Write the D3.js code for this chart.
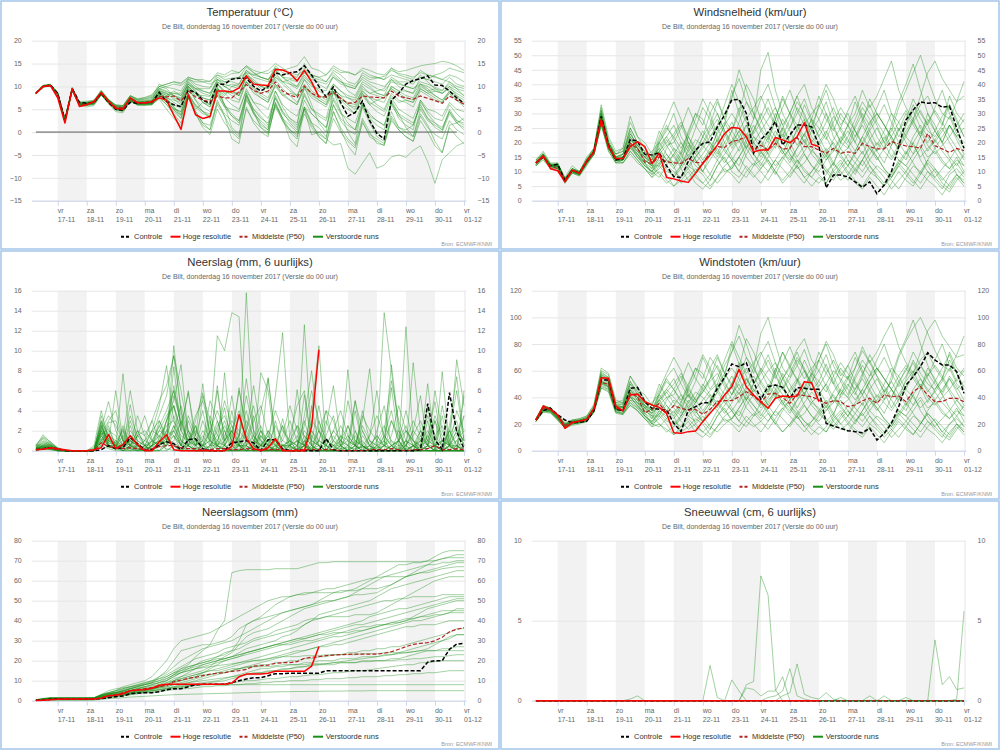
<!DOCTYPE html>
<html><head><meta charset="utf-8">
<script src="https://cdn.jsdelivr.net/npm/d3@7"></script>
<style>body{margin:0;background:#fff}svg{display:block}</style>
</head><body><svg id="c" width="1000" height="750"></svg>
<script>
// ---------- DATA ----------
const subtitle = "De Bilt, donderdag 16 november 2017 (Versie do 00 uur)";
const weekdays = ["vr","za","zo","ma","di","wo","do","vr","za","zo","ma","di","wo","do","vr"];
const dateLabels = ["17-11","18-11","19-11","20-11","21-11","22-11","23-11","24-11","25-11","26-11","27-11","28-11","29-11","30-11","01-12"];
const legendLabels = ["Controle","Hoge resolutie","Middelste (P50)","Verstoorde runs"];

// Temperatuur
const tempCtrl = [8.5,10,10.3, 8.5,2.5,9.5,6.5, 6.3,6.5,8.5,6.5, 5,4.8,6.5,6.3, 6.5,6.5,8.7,6.7, 6,5.6,9.2,8.7, 7,6.3,10.5,10.5, 11.6,11.8,11.8,10, 9,10,13,12.5, 13,13.2,14.5,12.5, 10,7.7,9.9,6.5, 3.5,4.3,6.8,2.5, -0.3,-1.5,7,8.5, 10.5,11.3,11.7,12.3, 10.3,10.2,9,7.5, 6.3];
const tempHres = [8.5,10,10.2, 7.5,2,9.5,5.6, 6,6.7,8.7,6.7, 5.2,5,7.5,6.4, 6.4,6.7,7.5,7, 3.7,0.6,8.1,3.8, 3,3.4,9,9, 8.8,9.7,12.3,10.5, 10.3,10.2,13.7,13.6, 12.9,11.2,13.5,11, 7.7];
const tempP50 = [8.5,10,10.2, 8.3,2.3,9.3,6, 6.2,6.5,8.5,6.8, 5.5,5.3,7.3,6.5, 6.3,6.5,7.8,7.7, 7.9,6.8,9,7.7, 7,6.7,7.9,7.5, 7.5,8.8,10.4,9.1, 8.5,9,11,9, 8.1,7.6,10.1,8.5, 7.7,7.7,8.7,7.4, 6.3,6.5,7.9,7.7, 7.6,7.5,9,7.9, 7.5,7.2,7.9,7.4, 6.9,6.3,7.9,7, 6.1];
const tempEns = [
[8.7,10.3,10.5, 8.6,3,9.8,6.6, 6.8,7,9.2,7.2, 5.8,5.6,7.8,7, 7.2,7.6,9.5,10, 10.5,10.2,11.5,11, 11,11.2,12.5,12, 12.8,13,14.5,13.5, 13,12.8,14,13.5, 14,14.5,16.5,14, 13.5,12.5,14,13, 13.2,12.5,14,13.5, 12.8,12.5,14,13.2, 13.5,14,14.5,14.8, 15,15.5,15.2,14.5, 13.5],
[8.3,9.8,10.1, 8.2,2.8,9,6.2, 6.5,6.8,8.8,7, 6,5.8,8,7.2, 7.5,8,10.5,9.8, 9.5,9,11.8,10.5, 10,9.8,12.5,11.5, 11.8,12,14.2,13, 12,11.5,13.5,12, 11.8,11.5,13,12, 11.5,11,13.5,12.5, 11,10.5,12.5,11.5, 11.8,12.2,13.5,12.8, 12.5,12,13,12.5, 12.2,11.5,12.5,12, 11],
[8.6,10.1,10, 8,2.2,9.2,5.8, 5.5,5.8,8.2,6.2, 4.5,4.2,7,6, 5.8,6,8,6.8, 5,4.5,8.5,4, 1.5,0.5,6,3.5, -1.5,-2.5,5.5,2, 0,-1,6.5,3, -1.5,-3.2,5,1.5, -0.5,-1.5,6,2.5, 0.5,-0.5,5.5,2, -1,-2,4.5,1, 0.5,1.5,6.5,4.5, 3,2.5,6,4, 2.5],
[8.4,10,10.3, 8.5,2.6,9.4,6.1, 6.1,6.3,8.4,6.6, 5.1,5,7.1,6.2, 6.2,6.6,9.2,8.5, 7.2,6,10,8.5, 6.5,5.5,10.5,9, 8.5,8,12.5,11, 9.5,8.5,12,10.5, 9,8,11.5,10, 9.5,9,12.5,11, 10,9.5,12,11, 10.5,10,11.5,10.8, 10,9.5,11,10.5, 9.8,9.2,10.5,9.5, 9],
[8.5,9.9,10.2, 8.1,2.4,9.1,5.9, 5.8,6,8.1,6.3, 4.8,4.5,6.8,5.9, 6,6.1,7.2,5, 3,1.5,7.5,4.5, 2,1.5,6.5,4, 2.5,1.5,7,4.5, 2,0.5,6.5,3, 1.5,0,5.5,2, 1,-1,4.5,1, -1.5,-3,3,0, -2.5,-2.8,2.5,0.5, -1,-2,3.5,1, -0.5,-1.5,2.5,0.5, -0.5],
[8.6,10.2,10.3, 8.3,2.7,9.5,6.3, 6.3,6.6,8.6,6.8, 5.4,5.2,7.4,6.6, 6.6,6.7,8.5,7.5, 7,6.5,10,8.5, 7,6,9.5,7.5, 6,5,9,6.5, 4.5,3,7.5,4, 2.5,1,5,-0.6, 0,-1.5,-2.8,-2.5, -7.9,-9.2,-6.8,-4.5, -7.9,-7.2,-5.4,-5, -5.5,-4,-3,-6.5, -11.2,-6,-4.5,-3, -2.3],
[8.4,10,10, 8.4,2.2,9.3,5.8, 6,6.4,8.8,7.1, 5.6,5.4,7.6,6.7, 6.8,7.2,10,9.5, 8,7,11,9.5, 8.5,8,11,10, 9,8.5,12,10.5, 10.5,10,13.5,12, 10.5,9.5,12,10.5, 8,7,9.5,8, 6,5.5,9,7.5, 7,6.5,10,9, 8,7.5,10.5,9, 8,7,9,7.5, 6.5],
[8.6,10,10.4, 8.7,2.9,9.6,6.4, 6.4,6.7,8.3,6.4, 4.9,4.6,6.9,6, 6.1,6.2,7.6,6, 4.5,3,8.5,5.5, 4,3.5,9,6, 4,2.5,8.5,5, 3.5,1.5,6,3, 0.5,-1,5.5,4, 2.5,1,7.5,4.5, 2,0.5,6,3, 1.5,0.5,7,4, 1,-1,4,1.5, -2,-4.5,1.5,2, 3],
[8.5,10.1,10.1, 8.2,2.5,9.2,6, 6.1,6.4,8.4,6.9, 5.4,5.1,7.1,6.3, 6.4,6.4,8.2,7.2, 6,5.2,9.5,8, 8,7.8,11.5,10.5, 10,9.5,13,11, 10,9.5,12.5,11, 11.5,11,14,12.5, 12,11,13,11.5, 9,8,11,10, 8.5,8,11.5,10, 9,8.5,12,11.5, 11,10.5,12,10.5, 10],
[8.4,9.8,10.3, 8.4,2.6,9.4,6.2, 5.9,6.1,8.3,6.4, 5,4.9,7,6.1, 6.3,6.3,8.5,7.5, 5.5,4,10,7, 4.5,3,10,6, 1,-0.5,8.5,4, 1.5,0.5,9,5.5, 3,1.5,10,6, 2,0,9,4.5, 0,-2.5,6,2.5, 0,-1.5,6.5,3, 1.5,0.5,7,4, 2,0.5,5,2.5, 1.5],
[8.6,10.2,10.1, 8.3,2.4,9.3,6.1, 6.2,6.5,8.6,6.7, 5.3,5.2,7.3,6.5, 6.5,6.8,8.8,8, 8.5,8.5,11,9.5, 9.5,9.5,12,11, 11,10.5,13.5,12, 11.5,11,14.5,13, 12.5,12,15,12, 10.5,9.5,12,10.5, 10,9.5,13,12, 12,11.5,14,12.5, 12,11.5,13.5,12.5, 12,11.5,11,9.5, 8],
[8.5,10,10.2, 8.4,2.5,9.4,6.2, 6.2,6.4,8.4,6.7, 5.2,5,7.2,6.3, 6.3,6.4,8,6.5, 5.2,4.5,8.5,6, 4.5,4,8,5.5, 5,4.5,9.5,6.5, 6,5,9,6, 4.5,3.5,8,5, 3.5,2.5,7,4, 3,2,6.5,4, 2.5,1.5,6,3.5, 2.5,1.5,6,3, 1,0,4,2, 1],
[8.3,9.9,10.2, 8.1,2.3,9.1,5.9, 6,6.2,8.2,6.5, 5.1,4.9,7,6.2, 6.2,6.3,8.7,8, 9,8,11.5,10, 9,8.5,11.5,10, 9,8,12,10, 8,7,10.5,8, 7,6,9.5,7.5, 6.5,5.5,8.5,7, 6.5,6,9.5,8.5, 9,9.5,12,11, 11,10.5,12.5,11, 9.5,8.5,10,8, 6],
[8.6,10.1,10.4, 8.6,2.8,9.7,6.5, 6.6,6.9,9,7, 5.7,5.5,7.7,6.9, 7,7.4,9.5,9, 8,7.5,10.5,9, 7.5,7,10.5,8.5, 7,6.5,11,8.5, 7.5,6.5,10,8, 8.5,8,11.5,9, 8,7.5,10.5,9, 7.5,6.5,9,7.5, 6,5,8.5,7, 6.5,5.5,9,8, 7,6.5,8.5,7, 5.5],
[8.5,10,10.1, 8.2,2.4,9.2,6, 6,6.3,8.3,6.5, 5,4.8,6.9,6, 6,6,7.5,6, 4,2,7.5,4, 1,-0.5,5,2, 0,-1.5,5,2.5, 1,0,5.5,2.5, 0.5,-0.5,4,1, -1,-2.5,3,0, -2,-3.5,2,-0.5, -1.5,-2.5,3,0.5, -1,-2,2.5,0, -3,-4.5,1,-1, -2.5],
[8.5,10.1,10.3, 8.5,2.5,9.5,6.2, 6.3,6.6,8.7,6.8, 5.4,5.1,7.3,6.4, 6.6,6.9,9,8.5, 8,7.2,10.5,9, 6.5,5.5,9.5,8, 10,10.5,13.5,12.5, 12,11.5,14,12, 11,10,12.5,10.5, 9,8,10.5,9, 8,7.5,10.5,9.5, 8.5,8,9.5,8.5, 7.5,7,10,9, 9.5,9,11,10, 9.5],
[8.4,10.1,10.2, 8.3,2.4,9.4,6.1, 6.2,6.5,8.6,6.9, 5.6,5.4,7.5,6.6, 6.8,7,9.5,8.8, 8.5,8,10.5,9.5, 9,8.5,11,10, 10.5,10,12.5,11.5, 10,9.5,12,11, 10.5,10,13,11.5, 11,10.5,12,11, 10.5,10,11.5,10.5, 9.5,9,11,10.5, 10,9.5,10.5,10, 9,8.5,9.5,8.5, 7.5],
[8.5,10,10.2, 8.4,2.6,9.3,6, 6,6.2,8.3,6.5, 5.1,4.9,7,6.1, 6.1,6.2,8.2,7, 5.5,3.5,8,4.5, 2,0.5,7,3.5, 0.5,-1,7.5,4, 2.5,1,8,4.5, 3,2,8.5,5, 4,3,9,6, 5,4,8.5,6, 4.5,3.5,7.5,5, 4,3,7,5, 4.5,3.5,6.5,5, 4.5],
[8.6,10.2,10.3, 8.4,2.6,9.5,6.3, 6.4,6.7,8.8,7.1, 5.9,5.7,7.9,7.1, 7.3,7.8,10,10.5, 11,10.5,12,11.5, 11.5,11,13,12.5, 13.5,13,14.5,13, 12,11.5,13,11, 9.5,8,10.5,8.5, 7,6,9.5,7.5, 6,5,8.5,6.5, 5.5,4.5,8,6.5, 7,6.5,9.5,8.5, 9,8.5,10,9, 8],
[8.5,10,10.1, 8.2,2.5,9.3,6.1, 6.1,6.3,8.4,6.6, 5.2,5,7.2,6.3, 6.3,6.4,8.6,7.6, 6.5,5.5,9.5,7, 5.5,4.5,9,6, 3.5,2,8,4.5, 1,-0.5,6,2.5, 0,-1.5,5.5,2, -1,-2.5,4.5,0.5, -3,-5,2.5,-1, -2,-3,3.5,1, 0,-1,5,2.5, 1.5,0.5,4.5,2, 0.5],
[8.4,10,10.3, 8.6,2.7,9.6,6.4, 6.5,6.8,9,7.1, 5.9,5.8,8,7.3, 7.6,8.2,10,10.5, 11,10.8,12,11.5, 11,10.5,11.5,11, 11.5,12,13,12.5, 13,13.5,15,14, 13,12.5,13.5,12.5, 12,12.5,14.5,13.5, 13,12.5,13.5,12.5, 12,11.5,12.5,12, 11.5,11,12,11.5, 12.5,13,14,13.5, 13],
[8.6,10.1,10.2, 8.3,2.5,9.4,6.2, 6.2,6.5,8.6,6.8, 5.3,5.1,7.3,6.4, 6.4,6.5,8.3,7.3, 5,3,8,5, 6.5,6,9.5,8.5, 9,8,11,9.5, 8.5,7.5,11.5,9.5, 8,6.5,10,8, 7,6,9,7, 5.5,4,8,6, 7,7.5,10,9, 9,8.5,10.5,9.5, 8,7,8.5,7, 6],
[8.5,10,10.2, 8.2,2.3,9.2,5.9, 5.9,6.2,8.2,6.4, 5,4.7,6.8,6, 6,6,7.8,6.5, 4.8,3.8,8.2,5.8, 4.5,3.5,8.5,5.5, 3.5,2.5,8,5, 3,2,7.5,4.5, 2,0.5,7,4, 2.5,1,6,3, 1.5,0.5,6,3.5, 2.5,1.5,6.5,4, 3,2,5.5,3, 2,1,4.5,2.5, 2],
[8.5,10.1,10.3, 8.5,2.5,9.5,6.2, 6.3,6.6,8.8,7, 5.5,5.3,7.5,6.7, 6.7,6.9,9,8.3, 7.5,6.8,10,8.5, 7.5,7,10.5,9, 8,7,11,9, 7.5,6.5,10.5,8.5, 7,6,10,8.5, 7.5,6.5,9.5,8, 7.5,7,10,8.5, 8,7.5,9.5,8, 7,6.5,9.5,8.5, 7.5,6.5,9,8, 7]
];

// Windsnelheid
const windCtrl = [13,15,12, 12.5,7,10.5,9.5, 13.5,17,29,19, 14,14.5,21,20.5, 16,15.7,16.5,12, 8.3,8,13.5,17.4, 19.7,20.2,25.4,29.4, 34.7,34.8,30,16.3, 21,23.5,27.2,19.1, 22.6,26,26,25.4, 19,4.4,8.8,8.8, 8.2,6.5,4.6,6.5, 2.4,5.4,10,18.6, 27.7,31.2,34,33.5, 33.7,32.1,32.5,24.9, 18];
const windHres = [13,15.4,11, 10.3,6.5,10.5,9.4, 13.6,16.8,28,18.6, 14.5,14.5,18.6,20.3, 18.6,12.8,16.3,8, 7.5,6.8,6.3,9.4, 12.8,15.7,19.1,23.1, 25.2,24.9,22,16.8, 17.4,17.4,21.7,20.9, 19.9,22,26.8,19.4, 18.6];
const windP50 = [13,15,12, 11,7,10.5,9.5, 13.5,16.5,27,18.5, 14.5,14.5,19.7,18, 13.4,12.8,15.1,13.4, 13,12.8,14.5,13.2, 13,16.3,18.6,18.3, 20.3,20.9,22,17.4, 19.1,17.4,19.7,17.8, 18,21.7,18.6,18.6, 17.4,16.3,18,16.3, 16.8,16.3,19.7,18.6, 17.8,17.8,20.3,19.5, 18.8,18.6,18,23.1, 18.9,17.8,16.6,18, 17.2];
const windEns = [
[13,16,12, 13,7.5,11,9.5, 14,18,31,20, 15,16,24,18, 14,12,20,24, 30,22,18,25, 32,28,20,26, 38,30,22,28, 45,51,38,30, 25,32,28,20, 24,30,22,18, 22,28,34,30, 26,20,24,32, 38,44,50,42, 35,30,28,34, 41],
[12,15,11, 12,6.5,10,9, 13,16,26,18, 13,14,20,16, 12,10,15,12, 10,8,12,15, 18,22,25,20, 15,12,18,22, 20,16,12,15, 18,22,16,12, 10,14,18,15, 12,9,14,18, 15,11,8,12, 16,20,14,10, 8,11,14,9, 6],
[14,17,13, 13,8,12,10, 15,18,33,22, 17,18,29,22, 18,15,22,28, 34,28,20,16, 22,30,35,28, 24,30,40,35, 28,22,18,25, 30,36,40,32, 28,34,26,20, 18,25,30,26, 32,38,30,24, 28,35,30,26, 32,38,30,24, 28],
[13,15,12, 12,7,10.5,9.5, 13.5,17,28,19, 14,15,19,17, 13,9,13,16, 12,6,8,11, 9,5,8,12, 14,10,16,20, 17,13,9,14, 18,14,10,8, 12,16,10,7, 9,13,17,12, 8,5,9,14, 12,9,6,10, 7,4,9,11, 8],
[12,14,11, 11,6,9.5,8.5, 12,16,27,18, 14,13,17,14, 11,8,12,18, 22,26,20,14, 10,16,24,30, 35,45,38,30, 24,20,28,35, 30,24,20,26, 32,38,30,24, 20,26,32,28, 22,18,26,34, 40,47,38,30, 24,20,26,22, 18],
[13,16,12.5, 12.5,7,11,10, 14,17,29,20, 15,14,21,19, 16,12,9,6, 8,12,18,14, 10,7,12,16, 20,24,18,14, 11,15,19,23, 16,12,8,10, 14,18,13,9, 12,16,20,14, 11,8,4,7, 10,14,18,12, 8,5,3,7, 10],
[13,15,12, 12,7,10,9, 13,17,30,20, 16,17,23,19, 17,14,18,22, 26,20,15,19, 24,20,16,22, 27,22,18,24, 30,26,22,28, 24,19,23,28, 25,21,27,32, 28,24,20,25, 30,26,22,27, 31,27,23,28, 24,20,26,22, 25],
[14,16,12, 12,7.5,10.5,9.5, 14,17,27,18, 14,16,25,20, 15,11,17,21, 17,13,22,28, 35,30,22,18, 24,32,27,20, 16,22,30,24, 18,25,33,27, 22,17,12,20, 26,34,28,22, 17,13,19,25, 20,16,22,30, 26,20,15,12, 16],
[12,15,11.5, 11.5,6.5,10,9, 13,17,28,19, 14,14,18,15, 12,10,14,11, 8,11,15,9, 6,9,14,18, 14,10,8,12, 17,14,10,6, 9,12,8,5, 8,6,10,13, 9,6,4,8, 5,2,6,10, 7,5,9,13, 10,6,4,8, 5],
[13,15.5,12, 12,7,10.5,9.5, 13.5,16.5,29,19, 14,15,20,17, 15,13,16,19, 15,12,17,21, 19,16,21,26, 30,26,20,24, 29,35,28,22, 28,34,30,24, 20,15,21,25, 31,36,29,24, 19,24,30,27, 22,28,33,36, 30,26,33,28, 22],
[13,15,12, 11,6.5,9.5,9, 13,16,26,17, 13,13,16,13, 11,9,11,14, 18,16,12,10, 13,17,14,10, 11,15,19,16, 13,10,14,18, 15,11,13,17, 15,11,8,12, 16,13,10,14, 18,22,18,14, 12,16,19,15, 17,13,11,14, 12],
[14,16.5,12.5, 12.5,7.5,11,10, 14.5,18,32,21, 16,18,27,22, 20,16,24,19, 20,25,32,26, 22,26,34,28, 36,42,34,28, 35,40,32,26, 30,36,29,24, 33,40,35,28, 26,30,38,32, 36,42,48,38, 32,28,36,44, 48,42,38,34, 36],
[12.5,15,11.5, 12,7,10,9, 13,16.5,28,19, 14,14.5,19,16, 13,11,15,13, 16,20,17,13, 16,20,17,13, 17,21,15,12, 14,18,21,17, 14,18,21,16, 13,17,20,16, 12,17,22,18, 14,18,22,17, 14,20,24,19, 16,19,22,18, 14],
[13,16,12, 12,7,10,9.5, 14,17,30,20, 15,16,22,18, 14,12,12,9, 5,7,10,6, 4,7,12,15, 10,8,12,9, 6,10,14,11, 8,12,16,12, 9,6,11,14, 10,7,5,9, 12,10,7,4, 8,12,10,7, 5,2,6,9, 7],
[13.5,15.5,12.5, 12.5,7,10.5,9.5, 13.5,17,29,19.5, 15,15,21,18, 16,14,20,25, 22,18,23,30, 26,34,30,24, 20,27,34,30, 25,21,28,36, 30,26,22,28, 36,30,25,20, 24,20,27,35, 30,26,22,18, 26,33,28,24, 22,26,36,30, 27],
[12.5,15,12, 11.5,6.5,10,9, 12.5,16,28,18, 14,14,20,17, 14,12,17,14, 12,16,20,17, 22,19,15,20, 24,20,26,22, 18,24,20,16, 22,26,20,17, 20,24,19,16, 18,22,26,21, 17,21,25,20, 16,22,26,22, 18,22,26,21, 16],
[13,15.5,12, 12,7,10.5,9.5, 13.5,17,30,19, 15,15,22,18, 15,13,19,22, 18,14,11,15, 19,24,28,23, 18,22,26,20, 24,28,32,26, 20,24,28,22, 19,23,29,25, 21,17,22,27, 30,26,21,18, 23,27,31,26, 20,24,29,23, 20],
[12.5,15,11.5, 11.5,6.5,10,9, 13,16,27,18, 13.5,14,18,16, 13,10,8,12, 16,11,7,10, 13,9,6,9, 12,15,11,8, 11,14,10,7, 10,14,11,8, 6,9,13,10, 7,11,14,10, 8,5,8,12, 9,6,10,14, 11,7,10,13, 9],
[13.5,16,12.5, 12.5,7.5,11,10, 14,17.5,31,20, 16,17,25,20, 17,14,21,26, 21,16,24,30, 28,22,26,33, 40,34,28,32, 36,30,26,32, 38,31,26,30, 33,28,24,30, 26,22,28,33, 27,23,19,24, 30,26,22,27, 31,27,22,26, 30],
[13,15,12, 12,7,10,9, 13,16.5,28,18.5, 14,14,19,15, 13,15,18,14, 11,15,19,16, 13,17,21,17, 14,18,23,19, 15,19,24,20, 16,13,17,21, 18,14,17,22, 19,15,12,16, 20,17,14,18, 22,19,15,18, 21,17,14,18, 15],
[12,14.5,11, 11,6,9.5,8.5, 12.5,16,26,17, 13,13,17,14, 11,8,10,7, 5,8,11,8, 6,4,8,11, 9,6,10,13, 10,7,11,15, 12,9,6,10, 13,10,7,11, 14,11,8,12, 9,6,10,13, 10,7,4,8, 11,8,5,9, 6],
[13.5,16,12.5, 12.5,7.5,11,10, 14,17.5,30,20, 15,16,23,19, 16,13,17,20, 23,27,22,17, 20,25,30,24, 19,24,29,23, 27,32,26,21, 25,30,35,28, 22,27,32,26, 30,24,19,24, 28,33,27,22, 26,31,25,20, 24,29,33,27, 22],
[13,15.5,12, 12,7,10.5,9.5, 13.5,17,29,19, 14,15,21,18, 15,17,20,16, 13,17,22,18, 14,18,23,27, 22,17,21,26, 21,16,20,25, 20,15,19,24, 28,22,17,21, 26,20,16,21, 25,20,15,19, 24,28,22,17, 21,25,20,16, 12],
[12.5,15,12, 11.5,6.5,10,9, 13,16,27,18, 14,14,19,15, 12,10,13,10, 9,12,16,12, 10,14,18,14, 11,15,20,16, 12,17,22,17, 13,18,23,18, 14,10,13,18, 14,10,14,19, 15,11,8,13, 17,13,9,14, 18,14,11,15, 10]
];

// Neerslag (6 uurlijks)
const precCtrl = [0.1,0.2,0.3, 0.2,0,0,0, 0,0,0.1,0.5, 0.2,0.3,1.3,0.7, 0.1,0.1,0.6,0.9, 0.7,0.1,1.1,1.2, 0.2,0,0,0, 0.8,0.9,1,0.8, 0,1.1,1.1,0.2, 0,0,0,0, 0,1.2,0.1,0, 0,0,0,0, 0,0,0,0, 0,0,0.1,4.7, 1.1,0.1,5.8,1.9, 0.2];
const precHres = [0.1,0.15,0.3, 0.2,0.1,0,0, 0,0.1,0.3,1.6, 0.2,0.6,1.5,0.6, 0,0,0.9,1.6, 0.1,0,0,0, 0,0,0,0, 0.4,3.6,1.2,0.2, 0,0.3,1.2,0, 0,0,0,2.4, 10.1];
const precP50 = [0.1,0.2,0.2, 0.1,0,0,0, 0,0,0.8,0.4, 0.3,0.2,0.3,0.2, 0.1,0.2,0.4,0.5, 0.5,0.3,0.2,0.2, 0.1,0.1,0.2,0.2, 0.1,0.1,0.2,0.1, 0.1,0.1,0.1,0.1, 0,0.1,0.1,0.1, 0.1,0.1,0.1,0, 0,0,0,0.1, 0.1,0.1,0.2,0.1, 0,0.1,0.1,0.2, 0.5,0.1,0.1,0.2, 0.1];
const precEns = [
[0.5,1.6,0.8, 0.2,0,0,0, 0,0,2.4,0.8, 6,1,0.2,0, 0.5,2,4.5,8.5, 3,0.5,1,0, 0,2,11.5,10, 13.8,13.4,0.5,0, 0,2,0.5,0, 0,0.5,3,0.5, 0,0,1,0.2, 0,2,0.5,0, 0.5,13.8,8,2, 0,0.5,1,0, 0,0,2,0.5, 0],
[0.3,0.8,0.4, 0.1,0,0,0, 0,0.5,4,1.2, 0.5,7.7,1,0.2, 0,0.5,1.5,0.8, 10.5,4,0.5,0, 0.5,1,6.5,0.5, 0,0.5,15.8,1.5, 0,0.5,0,0, 0,0,12.6,0.5, 0,0.2,0,0, 0.5,4,0.5,0, 0,0,0.5,0, 12.4,1,0.5,0, 0,0.5,2,6, 1],
[0.1,0.3,0.6, 0,0,0,0, 0,0,1,2, 1.5,0.5,4.6,0.8, 0,1.5,3.5,5.5, 9.5,6,2,0.5, 3,1,6,1, 2,4,0.5,0, 0,7.3,1,0, 0.5,2.5,0.5,4, 10.5,0.5,0,0, 8.1,0.5,0,0.5, 0.2,1.5,4,0.5, 0,0,0.5,6.7, 0.5,0,0.5,0, 6],
[0.6,0.4,0.2, 0.1,0,0,0, 0,0,2.2,4.9, 2,0.5,0.2,0.1, 0,0.3,1.2,3, 5,8.6,1.5,0.2, 0.5,3,0.5,0.1, 1,6.3,1.5,0.5, 0,0.5,5.5,11.8, 1,0,0.5,1.5, 0.5,0,1.5,0.5, 0,0.5,3,8.2, 0.5,0,0.5,1, 0,8.8,2,0.5, 0,7.9,0.5,0.5, 0.2],
[0.2,0.5,0.3, 0,0,0,0, 0,0.1,3,0.5, 0.2,2.5,0.5,1.5, 3.5,1,0.5,2, 6.5,2.5,5.8,1.5, 6.7,1,0,0.5, 4,0.5,0,1, 2.5,0.5,0,0, 1.5,4.5,6,1, 4.5,0.5,0,0, 0,0,0,1.5, 6,1,0,0, 0.5,2,5.5,0.5, 0,3.5,0.5,0, 3.5],
[0.4,1.2,0.5, 0.2,0,0,0, 0,0,1.8,0.3, 1,0.3,0,0, 0.5,0,1,0.5, 2,0.5,0,0, 5.5,3,0,7.8, 0.5,0,0,0.5, 0,0,0.5,0, 0.5,1,0,0, 0,2.5,6.5,1, 0,0,0.5,0, 0,0,0,1, 0,0,1.5,0.5, 0,4.5,1,0, 0],
[0,0.2,0.1, 0,0,0,0, 0,0,0.5,2.5, 0.5,0,0.2,1.5, 0.5,0,0,0.5, 1,3,0.5,2.5, 0,0.5,3,0.5, 0,1.5,7.2,2, 0,0,0,0.5, 0,0,5.6,0.5, 0,0,0,0, 2.5,0.5,0,0, 0,0.5,8.6,2.5, 0,0,0,0.5, 0.5,0,0.5,9.1, 4.5],
[0.2,0.1,0.3, 0.1,0,0,0, 0,0,2,0.5, 0.2,0.5,2.5,0.5, 0,0,0.5,1, 2.5,0.5,3,1, 0,0.5,1.5,4.3, 0.5,0,1,0, 7.8,6,0.5,0, 0,1,0.5,0, 3,0,0,0.5, 0,5,0.5,0, 0,0.5,1,0, 0,0.5,0,4.5, 0,0,0,0, 5.5],
[0.3,0.3,0.2, 0,0,0,0, 0,0,0.8,1.8, 0.5,0,0,0, 0,0.5,0,0, 0.5,0,0.5,0, 0,0,0.5,0, 0,0.5,2,0.5, 0,0,1,0, 0,0,0.5,0, 0,0,0,0.5, 0,0,0,0, 0.5,0,0,0, 0,0.5,0,0, 0,0,0.5,0, 0],
[0.1,0.5,0.6, 0.3,0,0,0, 0,0,1.2,0.6, 0.3,0.2,1,0.5, 0.2,1,2.5,4, 6,3.5,0.5,1.5, 4,0.5,2,5, 2.5,0.5,0,0.5, 4,7.2,1.5,0, 0,6.1,1,0, 2,4,0.5,0, 0,0.5,1,0, 2,4.5,0.5,0, 0.5,0,1,2, 0.5,0,2.5,7.4, 1],
[0.2,0.3,0.4, 0,0,0,0, 0,0.2,2.6,0.4, 0.1,0.5,0.2,0, 0,0,0.5,1.5, 0.5,0,0,0, 0,0,0,0, 0,0,1,3.5, 0.5,0,0,0, 0,0,0,0, 0,0,0.5,0, 0,0,0.5,0, 0,0,0,0, 0,0,0,0.5, 0,0,0,0.5, 0],
[0.1,0.2,0.2, 0.1,0,0,0, 0,0,1.5,3, 4,1,0.5,0.3, 1,3,1,0.5, 8.4,2,6,0.5, 1,0,0.5,2, 0,0,2,4.5, 1,0,0,0.5, 0.5,0,1,0, 0,1.5,3.5,0.5, 0,1,0.5,0, 0,0.5,6.3,1, 0,0,0,1.5, 4.9,0.5,0,1, 0],
[0.5,0.7,0.3, 0.1,0,0,0, 0,0.3,2,1, 0.5,0,0.5,3.5, 1.5,0,0,0.5, 1.5,0,1,2.5, 0.5,0,0,1, 5.5,1,0,0, 0.5,1.5,0,0, 0,0,0,4.5, 0.5,0,0,0, 0,0,0,0, 0,0,0,0, 1,0,0,0, 0,0,0,0, 0],
[0.1,0.1,0.1, 0,0,0,0, 0,0,0.5,0.2, 0,0,0.5,0, 0,0,0,1, 0.5,0,0.2,0, 0,0,0,0, 0,0,0,0.5, 0,0,0,0, 0,0.5,0,0, 0,0,0,0, 0,0,0,0, 0,0,0,0.2, 0,0,0,0, 0,0,0,0, 0],
[0.3,0.6,0.9, 0.2,0,0,0, 0,0,1.6,2.2, 0.5,2.2,0.5,0.2, 0,0.5,3,1, 4.5,1,0.5,3, 5.8,1.5,0.5,0, 0.5,0.5,0.5,0, 1.5,0.5,0,3.2, 0.5,0,0.5,0, 1,4,3,0.5, 5,2,0,0.5, 0,1,0,0, 2,1,0,3, 0,0,0.5,4, 2],
[0.2,0.4,0.2, 0,0,0,0, 0,0,2.8,0.6, 0.3,0,0.5,2, 0.5,2,1.5,0, 0.5,0,0,0, 0,0,0,0.5, 2,0.5,0,0, 0,0,0.5,2.5, 0,0,0,0, 0,0,0,0, 0,0,0,0, 0,0,0,2, 0.5,0,0,0, 0,1,0,0, 0],
[0.4,0.2,0.5, 0.1,0,0,0, 0,0,1.5,0.5, 0.5,1.5,6,2, 0.5,0,0.5,1.5, 3.5,1,0,0, 0,0.5,0.5,1, 2,0.5,0,0, 0,0,3,0.5, 0,0,3.5,8, 2,0,0,0, 0,0.5,0,0, 0,0,3,1, 0,0,0,0, 0,0,0,0, 0],
[0.2,0.2,0.1, 0,0,0,0, 0,0,1,0.5, 0.2,0,0,0.5, 0,0,0.5,0.2, 0,0,0.5,0, 0,0,0,0, 0,0,0.5,0, 0,0,0,0, 0,0,0,0.5, 0,0,0,0, 0,0,0,0, 0,0,0,0, 0,0,0,0, 0,0,0,0, 0],
[0.1,0.4,0.3, 0.1,0,0,0, 0,0,2,1.2, 0.5,0.5,3,1, 0.5,1,0.5,3, 4.5,2,0.5,0, 0,0,2.5,3.5, 1.5,0,0,0, 2,0,0,0, 0,0,1,0, 0,0,0,0, 0,0,4,1, 0,0,0,0, 0,0,2,0.5, 3,0,0,0, 0],
[0.3,0.9,0.5, 0.1,0,0,0, 0,0,2.2,1, 0.5,0.5,1.5,0.5, 0,0.5,1,2, 1.5,0.5,2,0.5, 0,0,0,0, 0,0,0,0, 0,0,0,0, 0,0,0,1, 0.5,0,0,0, 0,0,0,0, 0,0,0,0, 0,0.5,0,0, 0,0,0,0, 0],
[0.2,0.6,0.4, 0.1,0,0,0, 0,0,1.8,0.7, 0.8,0.3,2,1, 0.5,0.8,1.5,2.5, 3,1.5,1,0.5, 1.5,0.5,1,2.5, 1,0.5,3,1.5, 0.5,2,1,0.5, 1,2.5,1.5,0.5, 1,0.5,2,1, 0.5,1.5,0.5,0, 1,2.5,1,0.5, 0.5,1.5,3,1, 0.5,1,0.5,2, 1],
[0.4,1,0.6, 0.1,0,0,0, 0,0,3,1.5, 1,0.5,1,0.5, 0.2,1,2,3.5, 4.5,2,1,0.5, 2,1,0.5,1.5, 3,2,1,0.5, 1.5,0.5,2.5,1, 0.5,1,0.5,3, 2,1,0.5,1, 2.5,1,0.5,1.5, 3.5,1.5,0.5,1, 2,0.5,1,3.5, 1.5,0.5,1,2.5, 0.5],
[0.1,0.3,0.2, 0,0,0,0, 0,0,1.2,0.8, 0.5,1.5,0.5,0.2, 0.5,0.5,2.5,1, 2,0.5,3.5,1.5, 0.5,2,0.5,0, 0.5,1.5,4,1, 0.5,1,0,2.5, 0.5,0,1.5,0.5, 2,0.5,0,1.5, 0.5,0,2,0.5, 1.5,0.5,0,1, 2.5,0.5,0,0.5, 1.5,2.5,0.5,0, 1.5],
[0.3,0.5,0.7, 0.2,0,0,0, 0,0,2.5,1, 0.5,1,3.5,1.5, 1,0.5,2,1.5, 5.5,3,1,2, 1,3.5,1.5,0.5, 2,1,0.5,3, 4.5,1.5,0.5,1, 3,1,0.5,2, 1,3,1,0.5, 1.5,0.5,2.5,1, 0.5,1,3,1.5, 0.5,2,1,0.5, 3,1,0.5,1.5, 3.5],
[0.2,0.4,0.3, 0.1,0,0,0, 0,0,0.6,1.5, 0.3,0.5,1,0.5, 0.2,0.5,1,0.8, 1.5,0.5,0.5,1, 0.5,1,0.5,0.3, 1,0.5,0.5,1.5, 0.5,0.3,1,0.5, 0.5,1.5,0.5,0.2, 0.5,1,0.5,0.5, 1,0.5,0.3,0.5, 1.5,0.5,0.2,0.5, 1,0.5,0.5,1.5, 0.5,1,0.5,0.5, 0.8],
[0.5,1.3,0.7, 0.2,0,0,0, 0,0,2,3.5, 2.5,1,0.5,2, 1.5,3,5,6.5, 9.5,4,1.5,0.5, 1,5,3,1, 2.5,1.5,5.5,2, 1,0.5,0,1.5, 4.5,2,0.5,0, 1,0.5,2,4, 1.5,0.5,0,1, 0.5,2,7,3, 1,0.5,2,1, 0.5,0,1.5,3, 0.5],
[0.1,0.2,0.4, 0.1,0,0,0, 0,0,1.5,0.5, 0.5,0.2,1.5,0.5, 0,0.5,1,0.5, 2.5,1,0.5,0, 0.5,0,1,3, 1,0.5,0,0.5, 2,0.5,0,0, 1,0,0.5,2, 0.5,0,0,1, 0.5,0,1.5,0.5, 0,0,0.5,1, 4,1,0,0.5, 0,0.5,2,0.5, 0],
[0.3,0.5,0.3, 0.1,0,0,0, 0,0,3.5,1, 0.8,2,0.5,0.5, 1,2,3,1.5, 2,4.5,2,1, 0.5,2,4,2, 0.5,1,2,6.5, 2,1,0.5,0.5, 1,0.5,2,1, 0.5,0,1,2.5, 1,5,2,0.5, 0,1.5,0.5,0, 1,3,1.5,0.5, 6,2,0.5,1, 2],
[0.2,0.3,0.5, 0,0,0,0, 0,0,0.8,0.4, 0.2,0.8,0.3,0.5, 0.3,0.2,0.5,1.2, 0.8,0.3,0.5,0.2, 0.5,0.3,0.8,0.5, 0.2,0.6,0.3,0.2, 0.5,0.3,0.2,0.6, 0.3,0.2,0.5,0.3, 0.2,0.5,0.3,0.2, 0.3,0.2,0.4,0.2, 0.3,0.5,0.2,0.3, 0.2,0.4,0.3,0.2, 0.5,0.2,0.3,0.4, 0.2],
[0.6,1.4,0.9, 0.3,0,0,0, 0,0,1,2.8, 3,1,0.5,1.5, 2,1,0.5,3, 6,2.5,1,3.5, 5,2,1,0.5, 1.5,6,2.5,1, 0.5,1.5,4,2, 1,0.5,2.5,6, 3,1,0.5,1.5, 1,0.5,3.5,2, 1,0.5,1.5,4.5, 2,1,0.5,1, 3.5,1.5,0.5,2, 1]
];

// Windstoten
const gustCtrl = [23,30,32, 27,23,21,21.5, 22,30,53,53, 31,30,46.8,47.5, 36.8,31.8,31,30.5, 20.5,14.3,30.5,33, 36,36,46.8,55, 65,63,66,51.8, 38.5,48,49.3,47.5, 39.3,47.3,46.8,46, 46,20.5,18.5,16.8, 15,14.3,13.5,16.8, 8,13,20.5,33, 49.3,55.5,63,73.5, 68,64.3,64.3,59.3, 43];
const gustHres = [23,33.5,31, 26.8,16.8,21,22.3, 23.5,31.8,54.8,54.3, 33.5,29.8,41.8,42.5, 36.8,34.3,32.5,28, 13.5,13,14.3,14.8, 21.8,28,34.3,41.8, 48,61,48,41.8, 36.8,31.8,39.3,41, 40.5,41,51.8,51, 36.8];
const gustP50 = [23,32,31, 26,19,21.5,22, 23,31,51,50, 32,30,43,40.5, 28.5,31,35.5,28, 33.8,31.8,30.5,31, 27.3,31,36.8,37.5, 37.5,40.5,44.3,41, 36,42.5,43,39.8, 35.5,42.3,41.3,40.5, 38,35.5,37.5,36.8, 33,34.3,37.5,39.3, 35.5,41.8,40.5,41, 36.8,44.3,48,41.8, 36.8,36.8,39.3,39.3, 36.8];
const gustEns = [
[23,33,31, 26,19,22,23, 24,32,58,55, 35,32,50,45, 34,30,42,55, 62,50,40,52, 70,58,45,55, 80,65,50,62, 88,100,80,62, 55,68,60,45, 52,65,50,40, 48,62,75,66, 56,44,52,70, 82,92,100,88, 75,64,60,72, 86],
[22,30,29, 24,17,20,21, 22,29,48,46, 29,27,38,36, 26,22,30,26, 22,18,26,32, 38,45,50,42, 32,26,38,46, 42,34,26,32, 38,46,34,26, 22,30,38,32, 26,20,30,38, 32,24,18,26, 34,42,30,22, 18,24,30,20, 14],
[24,34,32, 27,21,23,24, 26,34,62,58, 38,36,56,48, 38,34,46,58, 70,60,44,36, 48,62,72,58, 50,62,84,74, 60,48,40,54, 64,76,84,68, 60,72,56,44, 40,54,64,56, 68,80,64,52, 60,74,64,56, 68,80,64,52, 60],
[23,31,30, 25,18,21,22, 23,31,52,50, 31,30,40,38, 28,20,28,34, 26,14,18,24, 20,12,18,26, 30,22,34,42, 36,28,20,30, 38,30,22,18, 26,34,22,16, 20,28,36,26, 18,12,20,30, 26,20,14,22, 16,10,20,24, 18],
[22,29,29, 23,17,20,21, 22,30,50,48, 30,28,36,30, 24,18,26,38, 46,56,42,30, 22,34,50,64, 74,94,80,64, 50,42,60,74, 64,52,42,56, 68,80,64,52, 42,56,68,60, 48,38,56,72, 84,98,80,64, 52,44,56,48, 38],
[23,32,31, 26,19,22,22, 24,31,55,52, 34,30,44,40, 34,26,20,14, 18,26,38,30, 22,16,26,34, 42,50,38,30, 24,32,40,48, 34,26,18,22, 30,38,28,20, 26,34,42,30, 24,18,10,16, 22,30,38,26, 18,12,8,16, 22],
[24,32,30, 25,18,21,22, 23,31,57,54, 34,35,48,40, 36,30,38,46, 54,42,32,40, 50,42,34,46, 56,46,38,50, 62,54,46,58, 50,40,48,58, 52,44,56,66, 58,50,42,52, 62,54,46,56, 64,56,48,58, 50,42,54,46, 52],
[24,33,31, 26,20,22,23, 25,32,52,48, 30,34,52,42, 32,24,36,44, 36,28,46,58, 72,62,46,38, 50,66,56,42, 34,46,62,50, 38,52,68,56, 46,36,26,42, 54,70,58,46, 36,28,40,52, 42,34,46,62, 54,42,32,26, 34],
[22,30,29, 24,18,20,21, 22,30,50,47, 30,29,38,32, 26,21,30,24, 18,24,32,20, 14,20,30,38, 30,22,18,26, 36,30,22,14, 20,26,18,12, 18,14,22,28, 20,14,10,18, 12,6,14,22, 16,12,20,28, 22,14,10,18, 12],
[23,31,30, 25,19,21,22, 23,30,53,50, 32,32,42,36, 32,28,34,40, 32,26,36,44, 40,34,44,54, 62,54,42,50, 60,72,58,46, 58,70,62,50, 42,32,44,52, 64,74,60,50, 40,50,62,56, 46,58,68,74, 62,54,68,58, 46],
[23,30,30, 24,18,20,21, 22,29,47,45, 29,28,34,30, 24,20,24,30, 38,34,26,22, 28,36,30,22, 24,32,40,34, 28,22,30,38, 32,24,28,36, 32,24,18,26, 34,28,22,30, 38,46,38,30, 26,34,40,32, 36,28,24,30, 26],
[24,34,32, 27,20,23,24, 26,35,60,57, 36,38,56,46, 42,34,50,40, 42,52,66,54, 46,54,70,58, 74,86,70,58, 72,82,66,54, 62,74,60,50, 68,82,72,58, 54,62,78,66, 74,86,96,78, 66,58,74,90, 98,86,78,70, 72],
[23,31,30, 25,18,21,22, 23,31,52,49, 31,31,40,34, 28,24,32,28, 34,42,36,28, 34,42,36,28, 36,44,32,26, 30,38,44,36, 30,38,44,34, 28,36,42,34, 26,36,46,38, 30,38,46,36, 30,42,50,40, 34,40,46,38, 30],
[23,32,31, 26,19,21,22, 24,32,56,53, 33,33,46,38, 30,26,26,20, 12,16,22,14, 10,16,26,32, 22,18,26,20, 14,22,30,24, 18,26,34,26, 20,14,24,30, 22,16,12,20, 26,22,16,10, 18,26,22,16, 12,6,14,20, 16],
[24,32,31, 26,19,22,23, 24,31,54,51, 33,32,44,38, 34,30,42,52, 46,38,48,62, 54,70,62,50, 42,56,70,62, 52,44,58,74, 62,54,46,58, 74,62,52,42, 50,42,56,72, 62,54,46,38, 54,68,58,50, 46,54,74,62, 56],
[22,30,30, 24,18,21,21, 22,30,51,48, 31,30,42,36, 30,26,36,30, 26,34,42,36, 46,40,32,42, 50,42,54,46, 38,50,42,34, 46,54,42,36, 42,50,40,34, 38,46,54,44, 36,44,52,42, 34,46,54,46, 38,46,54,44, 34],
[23,32,31, 26,19,22,22, 24,31,56,52, 34,33,46,40, 32,28,40,46, 40,34,28,36, 44,52,58,48, 38,46,54,44, 52,60,66,56, 44,52,60,50, 42,50,60,54, 46,38,46,56, 62,54,46,40, 48,56,64,54, 44,52,62,50, 44],
[22,30,29, 23,17,20,21, 22,29,49,46, 29,28,36,32, 26,20,18,24, 30,22,16,20, 26,18,14,20, 24,30,22,18, 22,28,20,14, 20,28,22,16, 12,18,26,20, 14,22,28,20, 16,10,16,24, 18,12,20,28, 22,14,20,26, 18],
[24,33,32, 27,20,23,23, 25,33,59,55, 36,36,52,44, 36,30,44,54, 46,36,50,62, 58,46,54,68, 82,70,58,66, 74,62,54,66, 78,64,54,62, 68,58,50,62, 54,46,58,68, 56,48,40,50, 62,54,46,56, 64,56,46,54, 62],
[23,31,30, 25,18,21,22, 23,30,52,49, 31,30,41,33, 28,32,38,30, 24,32,42,34, 28,36,44,36, 30,38,48,40, 32,40,50,42, 34,28,36,44, 38,30,36,46, 40,32,26,34, 42,36,30,38, 46,40,32,38, 44,36,30,38, 32],
[22,29,28, 23,17,19,20, 22,29,47,44, 28,27,34,30, 24,18,20,16, 12,18,24,18, 14,10,18,24, 20,14,22,28, 22,16,24,32, 26,20,14,22, 28,22,16,24, 30,24,18,26, 20,14,22,28, 22,16,10,18, 24,18,12,20, 14],
[24,33,32, 27,20,22,23, 25,33,57,54, 35,35,50,42, 34,28,38,44, 50,58,48,38, 44,54,64,52, 42,52,62,50, 58,68,56,46, 54,64,76,60, 48,58,68,56, 64,52,42,52, 60,70,58,48, 56,66,54,44, 52,62,72,58, 48],
[23,32,31, 26,19,22,22, 24,31,55,51, 33,33,45,40, 32,36,42,34, 28,36,46,38, 30,38,48,58, 48,36,46,56, 46,34,44,54, 44,32,42,52, 60,48,36,46, 56,44,34,46, 54,44,32,42, 52,60,48,36, 46,54,44,34, 26],
[22,31,30, 24,18,21,21, 23,30,51,48, 31,30,40,34, 26,22,28,22, 20,26,34,26, 22,30,38,30, 24,32,42,34, 26,36,46,36, 28,38,48,38, 30,22,28,38, 30,22,30,40, 32,24,18,28, 36,28,20,30, 38,30,24,32, 22]
];

// Neerslagsom
const cumCtrl = [0.2,0.4,0.7, 0.9,0.9,0.9,0.9, 0.9,0.9,1,1.5, 2,2.3,3.5,3.8, 4,4,4.5,5.5, 6,6,7,8, 8.2,8.2,8.2,8.2, 9,10,10.8,11.5, 11.5,12.5,13.5,13.5, 13.7,13.7,13.7,13.7, 13.7,15,15,15, 15,15,15,15, 15,15,15,15, 15,15,15,19.3, 20,20,25.7,28.3, 28.7];
const cumHres = [0.1,0.2,0.5, 0.7,0.8,0.8,0.8, 0.8,0.9,1.2,2.5, 2.7,3.5,5,5.3, 5.5,6.2,7.7,8.2, 8.2,8.2,8.2,8.2, 8.2,8.2,8.2,8.2, 8.8,12,13.3,13.3, 13.3,13.7,14.7,14.7, 14.7,14.7,14.7,17.3, 27];
const cumP50 = [0.2,0.4,0.6, 0.8,0.8,0.8,0.8, 0.8,0.9,1.5,2.5, 3,4,5,5.5, 6,6.5,7,7.5, 9.5,10.3,11.2,11.7, 12.5,13.3,13.7,14, 14.7,15,15.7,17.3, 17.5,17.8,18.7,19, 19,19.5,21.2,21.7, 22,22.5,22.8,23, 23.2,23.3,23.3,23.3, 23.3,23.7,24.5,25.7, 27,28.2,28.7,29, 30,31.7,34.5,35.7, 36.5];
const cumEns = [
[0.3,1,1.5, 1.5,1.5,1.5,1.5, 1.5,1.5,2.5,3, 4,5,6,6.5, 7,7.5,8,10, 13,16,18,22, 25,28,35,40, 64,65,65.5,65.5, 65.5,65.5,66,66, 66,66,67,68, 69,69,69.5,69.5, 69.5,69.5,69.5,69.5, 69.5,69.5,69.5,69.5, 69.5,69.5,69.5,69.8, 70,71,71.5,71.5, 71.5],
[0.2,0.8,1.2, 1.2,1.2,1.2,1.2, 1.2,1.3,3,4, 5,7,8,9, 10,12,16,20, 26,30,31,32, 33,34,36,38, 40,42,44,46, 48,50,51,52, 52,53,53,54, 54,54,54,54, 55,56,58,60, 62,64,66,68, 68,69,69,70, 72,74,75,75, 75],
[0.5,1.2,1.5, 1.5,1.5,1.5,1.5, 1.5,1.5,2.8,3.5, 4,4.5,6,7, 8,9,12,15, 20,25,26,27, 28,28,29,30, 32,36,38,40, 41,42,43,44, 45,46,47,48, 50,52,54,55, 55,55,56,56, 56,57,58,60, 62,64,66,68, 70,71,72,73, 73],
[0.2,0.6,1, 1,1,1,1, 1,1.2,2.5,3, 3.5,4,5,5.5, 6,6.5,7,8, 10,12,13,14, 15,17,20,22, 24,28,32,34, 35,36,38,40, 42,44,46,47, 48,49,50,51, 52,53,53,53.5, 54,56,58,60, 62,63,64,65, 66,67,68,69, 69],
[0.3,0.8,1.2, 1.2,1.2,1.2,1.2, 1.2,1.3,2.5,3.5, 4,5,5.5,6, 7,8,9,10, 12,14,16,18, 20,21,22,23, 25,30,38,40, 42,45,48,50, 52,53,54,54, 55,56,56,57, 58,59,60,61, 61.5,62,62,62, 62,63,64,64, 65,66,66.5,67, 67],
[0.1,0.4,0.8, 0.8,0.8,0.8,0.8, 0.8,0.9,2,2.5, 3,3.5,4,4.5, 5,5.5,7,9, 11,12,14,16, 18,19,20,21, 22,24,26,27, 28,29,30,32, 33,35,38,40, 43,44,45,46, 47,48,49,50, 52,54,56,57, 58,59,60,61, 62,63,64,65, 65],
[0.3,0.7,1, 1,1,1,1, 1,1,2,3, 3.5,4,5,6, 7,8,9,11, 13,15,17,18, 19,20,22,24, 25,26,28,30, 31,32,33,34, 35,36,38,40, 41,42,42,42, 42,43,43,43, 44,46,48,50, 52,54,56,58, 60,61,62,62, 62],
[0.2,0.5,0.8, 0.8,0.8,0.8,0.8, 0.8,0.9,1.5,2, 2.5,3,4,5, 5.5,6,7,8, 9,10,11,12, 14,16,18,20, 21,22,24,25, 26,27,28,29, 30,31,32,33, 34,35,36,37, 38,39,40,42, 43,44,45,46, 46,47,48,49, 50,51,52,52, 52],
[0.3,0.9,1.3, 1.3,1.3,1.3,1.3, 1.3,1.4,3,5, 6,6.5,7,7.5, 8,8.5,9,10, 12,14,15,16, 17,18,19,20, 21,22,23,24, 25,26,27,28, 28,29,30,30, 31,32,33,34, 35,36,37,37, 38,38,39,39, 40,42,44,46, 47,48,49,50, 50],
[0.2,0.6,0.9, 0.9,0.9,0.9,0.9, 0.9,1,2,2.5, 3,3.5,4,4.5, 5,6,7,8, 10,11,12,13, 14,15,15,16, 17,18,19,20, 20,21,22,23, 24,25,25,26, 27,28,29,30, 31,32,33,34, 35,36,37,38, 39,40,40,41, 42,43,44,46, 46],
[0.4,1,1.4, 1.4,1.4,1.4,1.4, 1.4,1.5,3,4, 5,6,7,8, 9,10,11,12, 14,16,17,18, 19,20,21,21, 22,23,24,25, 26,27,28,28, 29,30,31,32, 33,33,34,34, 34,35,35,36, 37,38,39,40, 41,41,42,42, 43,43,44,44, 44],
[0.1,0.4,0.7, 0.7,0.7,0.7,0.7, 0.7,0.8,1.5,2, 2.5,3,3.5,4, 4.5,5,5.5,6, 7,8,9,10, 11,12,13,14, 15,16,17,18, 19,20,21,22, 23,24,25,26, 27,27,28,28, 29,30,31,32, 33,34,35,36, 37,37,38,38, 38,39,40,40, 40],
[0.3,0.8,1.1, 1.1,1.1,1.1,1.1, 1.1,1.2,2.5,3.5, 4,4.5,5,5.5, 6,6.5,7,8, 9,10,11,12, 13,13,14,14, 15,16,17,17, 18,18,19,19, 20,20,21,21, 22,22,23,23, 24,24,25,25, 26,26,27,27, 28,29,30,31, 32,33,34,36, 36],
[0.2,0.5,0.8, 0.8,0.8,0.8,0.8, 0.8,0.9,1.5,2.5, 3,3.5,4,4.5, 5,5.5,6,6.5, 7,7.5,8,8.5, 9,9.5,10,11, 12,13,14,15, 16,16,17,17, 18,18,19,19, 20,20,20,21, 21,21,22,22, 22,23,23,24, 25,26,27,28, 29,30,31,33, 33],
[0.2,0.4,0.6, 0.6,0.6,0.6,0.6, 0.6,0.7,1.5,2, 2.5,3,3.5,4, 4.5,5,5.5,6, 6.5,7,7.5,8, 8.5,9,9.5,10, 11,12,13,14, 14,15,15,16, 16,17,17,18, 18,18,18,19, 19,19,20,20, 20,20,21,21, 22,23,24,25, 25,26,26,27, 27],
[0.1,0.3,0.5, 0.5,0.5,0.5,0.5, 0.5,0.6,1,1.5, 2,2.5,3,3.5, 4,4.5,5,5.5, 6,6.5,7,7.5, 8,8,8.5,8.5, 9,9.5,10,10, 10.5,11,11,11.5, 12,12,12.5,13, 13,13.5,14,14, 14.5,15,15,15.5, 16,16.5,17,17.5, 18,18,19,19, 19.5,20,20,20, 20],
[0.1,0.3,0.4, 0.4,0.4,0.4,0.4, 0.4,0.5,1,1.5, 2,2.5,3,3.5, 4,4,4.5,5, 5.5,6,6,6.5, 7,7,7.5,7.5, 8,8,8.5,8.5, 9,9,9.5,9.5, 10,10,10,10.5, 10.5,11,11,11, 11.5,11.5,12,12, 12,12.5,12.5,13, 13,13.5,13.5,14, 14,14.5,15,15, 15],
[0.1,0.2,0.3, 0.3,0.3,0.3,0.3, 0.3,0.3,0.6,1, 1.2,1.5,1.8,2, 2.2,2.4,2.6,2.8, 3,3.1,3.2,3.3, 3.4,3.5,3.6,3.7, 3.8,3.9,4,4.1, 4.2,4.3,4.4,4.5, 4.5,4.6,4.6,4.7, 4.7,4.8,4.8,4.8, 4.9,4.9,4.9,5, 5,5,5,5, 5,5,5,5, 5,5,5,5, 5],
[0.2,0.5,0.8, 0.8,0.8,0.8,0.8, 0.8,0.9,1.5,2, 2.5,3,3.5,4, 4.5,5,5.5,6, 6.5,7,7.5,7.8, 8,8,8,8, 8,8,8,8, 8,8,8,8, 8,8,8,8, 8,8,8,8, 8,8,8,8, 8,8,8,8, 8,8,8,8, 8,8,8,8, 8],
[0.3,0.7,1, 1,1,1,1, 1,1.1,2,2.5, 3,3.5,4.5,5, 5.5,6,6.5,7, 8,9,10,11, 12,13,14,15, 16,16,16.5,17, 17,17,17.5,18, 18,18,18,18.5, 18.5,18.5,19,19, 19,19,19.5,19.5, 20,20,20,20.5, 20.5,21,21,21.5, 22,22,22.5,23, 23],
[0.3,0.9,1.2, 1.2,1.2,1.2,1.2, 1.2,1.3,2.5,3.5, 4.5,5.5,6.5,7.5, 8.5,9.5,11,13, 15,17,19,21, 22,23,24,26, 27,28,29,31, 32,33,35,36, 37,38,40,41, 41,42,43,44, 45,46,47,48, 49,50,50,51, 51,52,52,52, 52,53,53,53, 53],
[0.2,0.6,1, 1,1,1,1, 1,1.1,2.5,3.5, 4,5,6,7, 8,9,10,12, 14,15,16,17, 18,19,20,21, 22,23,24,25, 26,27,28,29, 30,31,31,32, 33,34,35,36, 37,38,38,39, 40,41,42,43, 44,45,46,47, 48,49,50,51, 51],
[0.3,0.8,1.2, 1.2,1.2,1.2,1.2, 1.2,1.3,3,4, 5,6,7,8, 9,10,12,14, 17,20,22,24, 26,27,28,29, 30,32,34,36, 38,40,42,44, 45,46,47,48, 49,50,50,51, 52,54,56,58, 60,62,63,64, 65,66,67,68, 68,69,69,70, 70],
[0.2,0.5,0.9, 0.9,0.9,0.9,0.9, 0.9,1,2,3, 3.5,4,5,6, 6.5,7,8,9, 10,11,12,13, 14,15,16,17, 18,19,20,21, 22,23,24,25, 26,27,28,29, 30,31,32,32, 33,34,35,36, 37,38,38,39, 40,41,42,43, 44,45,45,45, 45],
[0.2,0.5,0.8, 0.8,0.8,0.8,0.8, 0.8,0.9,2,2.5, 3,3.5,4,5, 5.5,6,6.5,7, 8,8.5,9,9.5, 10,10.5,11,11.5, 12,12.5,13,13.5, 14,14.5,15,15.5, 16,16.5,17,17.5, 18,18.5,19,19.5, 20,20.5,21,21.5, 22,22.5,23,23.5, 24,24.5,25,25, 25,25,25,25, 25],
[0.3,0.7,1, 1,1,1,1, 1,1.1,2.5,3.5, 4,5,6,7, 8,9,10,11, 13,14,15,16, 16.5,17,17.5,18, 18.5,19,19.5,20, 20.5,21,21.5,22, 22,22,22.5,22.5, 22.5,23,23,23, 23,23,23.5,23.5, 23.5,24,24,24, 24,24.5,25,26, 28,30,32,33, 33]
];

// Sneeuwval
const snowCtrl = [0,0,0, 0,0,0,0, 0,0,0,0, 0,0,0,0, 0,0,0,0, 0,0,0,0, 0,0,0,0, 0,0,0,0, 0,0,0,0, 0,0,0,0, 0,0,0,0, 0,0,0,0, 0,0,0,0, 0,0,0,0, 0,0,0,0, 0];
const snowHres = [0,0,0, 0,0,0,0, 0,0,0,0, 0,0,0,0, 0,0,0,0, 0,0,0,0, 0,0,0,0, 0,0,0,0, 0,0,0,0, 0,0,0,0, 0];
const snowP50 = [0,0,0, 0,0,0,0, 0,0,0,0, 0,0,0,0, 0,0,0,0, 0,0,0,0, 0,0,0,0, 0,0,0,0, 0,0,0,0, 0,0,0,0, 0,0,0,0, 0,0,0,0, 0,0,0,0, 0,0,0,0, 0,0,0,0, 0];
const snowEns = [
[0,0,0, 0,0,0,0, 0,0,0,0, 0,0,0,0, 0,0,0,0, 0,0,0,0, 0,2.2,0.2,0, 0,0,0,0, 0,0,0,0, 0,0,0,0, 0,0,0,0, 0,0,0,0, 0,0,0,0, 0,0,0,0, 0,0,0,0, 0],
[0,0,0, 0,0,0,0, 0,0,0,0, 0,0,0,0, 0,0,0,0, 0,0,0,0, 0,0,0,0, 1.3,0.6,0,0, 0,0,0,0, 0,0,0,0, 0,0,0,0, 0,0,0,0, 0,0,0,0, 0,0,0,0, 0,0,0,0, 0],
[0,0,0, 0,0,0,0, 0,0,0,0, 0,0,0,0, 0,0,0,0, 0,0,0,0, 0,0,0,0, 0,0,1,1.2, 7.8,6.6,0.7,0, 0,0,0,0, 0,0,0,0, 0,0,0,0, 0,0,0,0, 0,0,0,0, 0,0,0,0, 0],
[0,0,0, 0,0,0,0, 0,0,0,0, 0,0,0,0, 0,0,0,0, 0,0,0,0, 0,0,0,0, 0,0,0.8,0.7, 0.3,0.6,0.6,1.5, 0,0,0,0, 0,0,0,0, 0,0,0,0, 0,0,0,0, 0,0,0,0, 0,0,0,0, 0],
[0,0,0, 0,0,0,0, 0,0,0,0, 0,0,0,0, 0,0,0,0, 0,0,0,0, 0,0,0,0, 0,0,0,0, 0,0.2,0.3,0.6, 2,0.3,0.1,0, 0,0,0,0, 0,0,0,0, 0,0,0,0, 0,0,0,0, 0,0,0,0, 0],
[0,0,0, 0,0,0,0, 0,0,0,0, 0,0,0,0, 0,0,0,0, 0,0,0,0, 0,0,0,0, 0,0,0,0, 0,0,0,0.3, 0.5,2.3,0.4,0.2, 0.1,0.5,0.1,0, 0,0,0,0, 0,0,0,0, 0,0,0,0, 0,0,0,0, 0],
[0,0,0, 0,0,0,0, 0,0,0,0, 0,0,0,0, 0,0,0,0, 0,0,0,0, 0,0,0,0, 0,0,0,0, 0,0,0,0, 0,0,0,0, 0,0,0,0, 0,0,0,0, 0,0,0,0, 0,0,0,0, 3.8,1,1.5,0.7, 0.8],
[0,0,0, 0,0,0,0, 0,0,0,0, 0,0,0,0, 0,0,0,0, 0,0,0,0, 0,0,0,0, 0,0,0,0, 0,0,0,0, 0,0,0,0, 0,0,0,0, 0,0,0,0, 0,0,0,0, 0,0,0,0, 0,0,0,0.1, 5.6],
[0,0,0, 0,0,0,0, 0,0,0,0, 0,0,0.1,0.3, 0,0,0,0, 0,0,0,0, 0,0,0,0, 0,0,0,0, 0,0,0,0, 0,0,0,0, 0,0,0,0.2, 0,0,0,0.3, 0,0.3,0,0, 0.2,0,0,0, 0,0,0,0, 0]
];

// ---------- LAYOUT / DRAW ----------
const FONT = '"Liberation Sans", Arial, Helvetica, sans-serif';
const PW = 500, PH = 250;
const plotL = 31.7, plotR = 466, plotT = 40.7, plotB = 200.7;
const HOUR = 3600e3;
const t0 = Date.UTC(2017, 10, 16, 6);
const tAt = i => new Date(t0 + i * 6 * HOUR);
const x = d3.scaleUtc()
  .domain([new Date(Date.UTC(2017, 10, 16, 2, 30)), new Date(Date.UTC(2017, 11, 1, 1, 40))])
  .range([plotL, plotR]);
const dayTicks = dateLabels.map((d, k) => new Date(Date.UTC(2017, 10, 17 + k)));

const panels = [
  {title: "Temperatuur (°C)", ox: 0, oy: 0, dom: [-15, 20], step: 5, ctrl: tempCtrl, hres: tempHres, p50: tempP50, ens: tempEns, zero: true},
  {title: "Windsnelheid (km/uur)", ox: 500, oy: 0, dom: [0, 55], step: 5, ctrl: windCtrl, hres: windHres, p50: windP50, ens: windEns},
  {title: "Neerslag (mm, 6 uurlijks)", ox: 0, oy: 250, dom: [0, 16], step: 2, ctrl: precCtrl, hres: precHres, p50: precP50, ens: precEns},
  {title: "Windstoten (km/uur)", ox: 500, oy: 250, dom: [0, 120], step: 20, ctrl: gustCtrl, hres: gustHres, p50: gustP50, ens: gustEns},
  {title: "Neerslagsom (mm)", ox: 0, oy: 500, dom: [0, 80], step: 10, ctrl: cumCtrl, hres: cumHres, p50: cumP50, ens: cumEns},
  {title: "Sneeuwval (cm, 6 uurlijks)", ox: 500, oy: 500, dom: [0, 10], step: 5, ctrl: snowCtrl, hres: snowHres, p50: snowP50, ens: snowEns}
];

const svg = d3.select("#c");
svg.append("rect").attr("width", 1000).attr("height", 750).attr("fill", "#fff");

const legendItems = [
  {color: "#000000", dash: "3,2", sx: 121, tx: 134},
  {color: "#ff0000", dash: null, sx: 170.5, tx: 182.7},
  {color: "#b22222", dash: "3,2", sx: 239.5, tx: 252},
  {color: "#1a8f1a", dash: null, sx: 313, tx: 325.7}
];

function drawPanel(p) {
  const g = svg.append("g").attr("transform", `translate(${p.ox},${p.oy})`).attr("font-family", FONT);
  g.append("rect").attr("x", 1).attr("y", 1).attr("width", PW - 2).attr("height", PH - 2)
    .attr("fill", "#fff").attr("stroke", "#a9c9ec").attr("stroke-width", 1.6);

  const y = d3.scaleLinear().domain(p.dom).range([plotB, plotT]);
  const ticks = d3.range(p.dom[0], p.dom[1] + 1e-9, p.step);

  const bandDays = dayTicks.filter((d, k) => k % 2 === 0);
  g.append("g").selectAll("rect").data(bandDays).join("rect")
    .attr("x", d => x(d))
    .attr("width", d => Math.min(x(new Date(+d + 24 * HOUR)), plotR) - x(d))
    .attr("y", plotT).attr("height", plotB - plotT)
    .attr("fill", "#f2f2f2");

  g.append("g").attr("transform", `translate(${plotL},0)`)
    .call(d3.axisLeft(y).tickValues(ticks).tickSize(-(plotR - plotL)).tickFormat(""))
    .call(a => a.select(".domain").remove())
    .call(a => a.selectAll(".tick line").attr("stroke", "#e6e6e6").attr("stroke-width", 1));

  g.append("g").attr("transform", `translate(${plotL},0)`)
    .call(d3.axisLeft(y).tickValues(ticks).tickSize(0).tickPadding(10))
    .call(a => a.select(".domain").remove())
    .attr("font-size", 7).attr("font-family", FONT)
    .call(a => a.selectAll("text").attr("fill", "#666"));
  g.append("g").attr("transform", `translate(${plotR},0)`)
    .call(d3.axisRight(y).tickValues(ticks).tickSize(0).tickPadding(11.5))
    .call(a => a.select(".domain").remove())
    .attr("font-size", 7).attr("font-family", FONT)
    .call(a => a.selectAll("text").attr("fill", "#666"));

  const ax = g.append("g").attr("transform", `translate(0,${plotB})`)
    .call(d3.axisBottom(x).tickValues(dayTicks).tickSize(5).tickSizeOuter(0).tickFormat(""))
    .attr("font-size", 7).attr("font-family", FONT);
  ax.select(".domain").attr("stroke", "#ccd6eb");
  ax.selectAll(".tick line").attr("stroke", "#ccd6eb");
  ax.selectAll(".tick text").each(function (d, i) {
    const t = d3.select(this);
    t.text(null).attr("y", null).attr("dy", null).attr("text-anchor", "start").attr("fill", "#666");
    t.append("tspan").attr("x", -0.5).attr("y", 12.3).text(weekdays[i]);
    t.append("tspan").attr("x", -0.5).attr("y", 21).text(dateLabels[i]);
  });

  if (p.zero) {
    g.append("line").attr("x1", x(tAt(0))).attr("x2", x(tAt(58)))
      .attr("y1", y(0)).attr("y2", y(0)).attr("stroke", "#9a9a9a").attr("stroke-width", 1.6);
  }

  const line = d3.line().x((d, i) => x(tAt(i))).y(d => y(d));

  g.append("g").selectAll("path").data(p.ens).join("path")
    .attr("d", line).attr("fill", "none")
    .attr("stroke", "#1a8f1a").attr("stroke-opacity", 0.4).attr("stroke-width", 1)
    .attr("stroke-linejoin", "round");

  g.append("path").datum(p.ctrl).attr("d", line).attr("fill", "none")
    .attr("stroke", "#000").attr("stroke-width", 1.5).attr("stroke-dasharray", "4,2");
  g.append("path").datum(p.p50).attr("d", line).attr("fill", "none")
    .attr("stroke", "#b22222").attr("stroke-width", 1.2).attr("stroke-dasharray", "4,2");
  g.append("path").datum(p.hres).attr("d", line).attr("fill", "none")
    .attr("stroke", "#ff0000").attr("stroke-width", 1.5).attr("stroke-linejoin", "round");

  g.append("text").attr("x", 250).attr("y", 15.6).attr("text-anchor", "middle")
    .attr("font-size", 11.3).attr("fill", "#333").text(p.title);
  g.append("text").attr("x", 250).attr("y", 29.2).attr("text-anchor", "middle")
    .attr("font-size", 7).attr("fill", "#666").text(subtitle);

  const lg = g.append("g");
  legendItems.forEach((it, k) => {
    lg.append("line").attr("x1", it.sx).attr("x2", it.sx + 10).attr("y1", 236.7).attr("y2", 236.7)
      .attr("stroke", it.color).attr("stroke-width", 2).attr("stroke-dasharray", it.dash);
    lg.append("text").attr("x", it.tx).attr("y", 239.4).attr("font-size", 7.5).attr("fill", "#333")
      .text(legendLabels[k]);
  });

  g.append("text").attr("x", 492).attr("y", 246.3).attr("text-anchor", "end")
    .attr("font-size", 5.5).attr("fill", "#999").text("Bron: ECMWF/KNMI");
}

panels.forEach(drawPanel);

const bad = [];
panels.forEach(p => {
  if (p.ctrl.length !== 60) bad.push(p.title + " ctrl " + p.ctrl.length);
  if (p.p50.length !== 60) bad.push(p.title + " p50 " + p.p50.length);
  if (p.hres.length !== 40) bad.push(p.title + " hres " + p.hres.length);
  p.ens.forEach((m, k) => { if (m.length !== 60) bad.push(p.title + " m" + k + " " + m.length); });
});
if (bad.length) throw new Error("Length mismatch: " + bad.join("; "));
</script>
</body></html>
